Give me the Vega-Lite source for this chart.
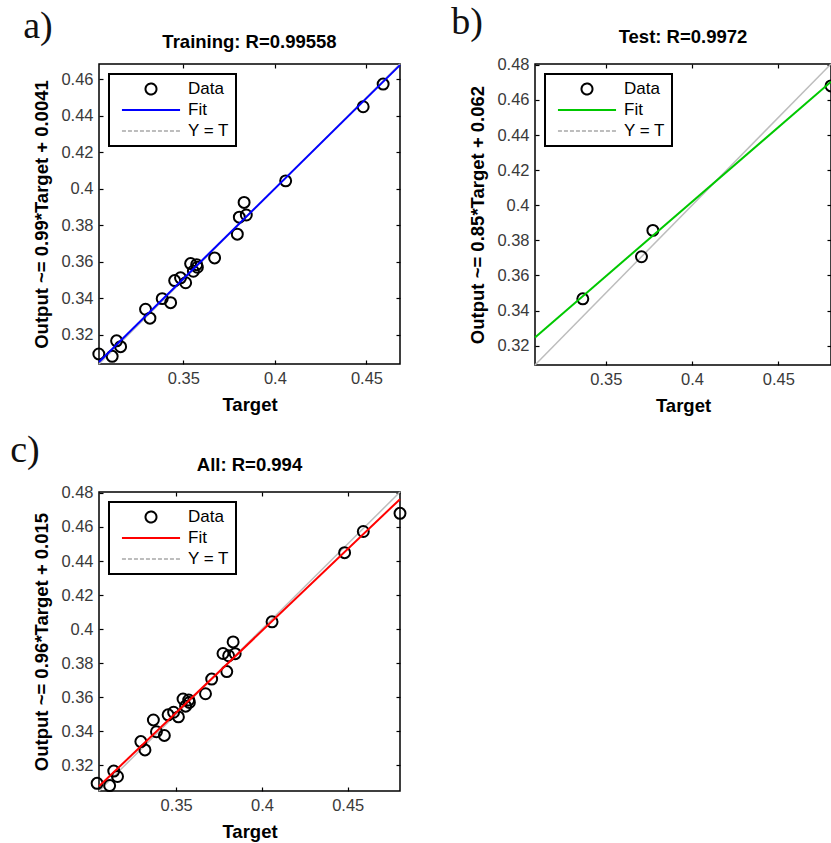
{
  "$schema": "https://vega.github.io/schema/vega-lite/v6.json",
  "background": "white",
  "padding": {"left": 10, "top": 3, "right": 0, "bottom": 0},
  "datasets": {
    "pts": [
      {"set": "Training", "t": 0.3039, "o": 0.3095},
      {"set": "Training", "t": 0.3112, "o": 0.3082},
      {"set": "Training", "t": 0.3136, "o": 0.3167},
      {"set": "Training", "t": 0.3158, "o": 0.3135},
      {"set": "Training", "t": 0.3294, "o": 0.334},
      {"set": "Training", "t": 0.3318, "o": 0.3291},
      {"set": "Training", "t": 0.3385, "o": 0.3398},
      {"set": "Training", "t": 0.3431, "o": 0.3376},
      {"set": "Training", "t": 0.3453, "o": 0.3497},
      {"set": "Training", "t": 0.3485, "o": 0.3512},
      {"set": "Training", "t": 0.3513, "o": 0.3485},
      {"set": "Training", "t": 0.354, "o": 0.359},
      {"set": "Training", "t": 0.3555, "o": 0.3548},
      {"set": "Training", "t": 0.3577, "o": 0.357},
      {"set": "Training", "t": 0.3573, "o": 0.3584},
      {"set": "Training", "t": 0.3671, "o": 0.3621},
      {"set": "Training", "t": 0.3795, "o": 0.3751},
      {"set": "Training", "t": 0.3806, "o": 0.3844},
      {"set": "Training", "t": 0.3832, "o": 0.3925},
      {"set": "Training", "t": 0.3844, "o": 0.3856},
      {"set": "Training", "t": 0.4059, "o": 0.4043},
      {"set": "Training", "t": 0.4482, "o": 0.4449},
      {"set": "Training", "t": 0.4591, "o": 0.4573},
      {"set": "Test", "t": 0.3367, "o": 0.3467},
      {"set": "Test", "t": 0.3707, "o": 0.3707},
      {"set": "Test", "t": 0.3773, "o": 0.3857},
      {"set": "Test", "t": 0.4805, "o": 0.468}
    ],
    "lines": [
      {"panel": "A", "series": "Fit", "t": 0.304, "o": 0.3051},
      {"panel": "A", "series": "Fit", "t": 0.4683, "o": 0.4677},
      {"panel": "A", "series": "Y = T", "t": 0.304, "o": 0.304},
      {"panel": "A", "series": "Y = T", "t": 0.4683, "o": 0.4683},
      {"panel": "B", "series": "Fit", "t": 0.309, "o": 0.3247},
      {"panel": "B", "series": "Fit", "t": 0.4805, "o": 0.4704},
      {"panel": "B", "series": "Y = T", "t": 0.309, "o": 0.309},
      {"panel": "B", "series": "Y = T", "t": 0.4805, "o": 0.4805},
      {"panel": "C", "series": "Fit", "t": 0.305, "o": 0.3078},
      {"panel": "C", "series": "Fit", "t": 0.4805, "o": 0.4763},
      {"panel": "C", "series": "Y = T", "t": 0.305, "o": 0.305},
      {"panel": "C", "series": "Y = T", "t": 0.4805, "o": 0.4805}
    ]
  },
  "vconcat": [
    {
      "hconcat": [
        {
          "title": {"text": "a)", "anchor": "start", "font": "Liberation Serif", "fontSize": 38, "fontWeight": "normal", "color": "#111", "dx": -9, "dy": 24},
          "vconcat": [
            {
              "width": 301, "height": 300,
              "title": "Training: R=0.99558",
              "layer": [
                {
                  "data": {"name": "lines"},
                  "transform": [{"filter": "datum.panel === 'A' && datum.series === 'Y = T'"}],
                  "mark": {"type": "line", "strokeWidth": 1.5, "clip": false},
                  "encoding": {
                    "x": {"field": "t", "type": "quantitative", "scale": {"domain": [0.304, 0.4683], "nice": false, "zero": false}, "axis": {"orient": "top", "labels": false, "title": null, "values": [0.35, 0.4, 0.45]}},
                    "y": {"field": "o", "type": "quantitative", "scale": {"domain": [0.304, 0.4683], "nice": false, "zero": false}, "axis": {"orient": "right", "labels": false, "title": null, "values": [0.32, 0.34, 0.36, 0.38, 0.4, 0.42, 0.44, 0.46]}},
                    "color": {
                      "datum": "Y = T",
                      "scale": {"domain": ["Data", "Fit", "Y = T"], "range": ["black", "#0000ff", "#bdbdbd"]},
                      "legend": {
                        "orient": "top-left", "offset": 10, "title": null, "clipHeight": 18,
                        "encode": {
                          "legend": {"update": {"strokeWidth": {"value": 2}}},
                          "symbols": {"update": {
                            "shape": {"signal": "datum.value === 'Data' ? 'M-0.157,0A0.157,0.157,0,1,0,0.157,0A0.157,0.157,0,1,0,-0.157,0Z' : 'M-0.83,0H0.83'"},
                            "size": {"value": 4900},
                            "fill": {"value": "transparent"},
                            "strokeDash": {"signal": "datum.value === 'Y = T' ? [4, 2] : [1, 0]"},
                            "strokeWidth": {"value": 2}
                          }}
                        }
                      }
                    }
                  }
                },
                {
                  "data": {"name": "pts"},
                  "transform": [{"filter": "datum.set === 'Training'"}],
                  "mark": {"type": "point", "shape": "circle", "filled": false, "size": 120, "strokeWidth": 2, "opacity": 1},
                  "encoding": {
                    "x": {"field": "t", "type": "quantitative", "axis": {"orient": "bottom", "title": "Target", "values": [0.35, 0.4, 0.45], "format": "~g"}},
                    "y": {"field": "o", "type": "quantitative", "axis": {"orient": "left", "title": "Output ~= 0.99*Target + 0.0041", "values": [0.32, 0.34, 0.36, 0.38, 0.4, 0.42, 0.44, 0.46], "format": "~g"}},
                    "color": {"datum": "Data"}
                  }
                },
                {
                  "data": {"name": "lines"},
                  "transform": [{"filter": "datum.panel === 'A' && datum.series === 'Fit'"}],
                  "mark": {"type": "line", "strokeWidth": 2, "clip": false},
                  "encoding": {
                    "x": {"field": "t", "type": "quantitative", "axis": null},
                    "y": {"field": "o", "type": "quantitative", "axis": null},
                    "color": {"datum": "Fit"}
                  }
                }
              ],
              "resolve": {"axis": {"x": "independent", "y": "independent"}}
            }
          ]
        },
        {
          "title": {"text": "b)", "anchor": "start", "font": "Liberation Serif", "fontSize": 38, "fontWeight": "normal", "color": "#111", "dx": -17, "dy": 24},
          "vconcat": [
            {
              "width": 296, "height": 301,
              "title": "Test: R=0.9972",
              "layer": [
                {
                  "data": {"name": "lines"},
                  "transform": [{"filter": "datum.panel === 'B' && datum.series === 'Y = T'"}],
                  "mark": {"type": "line", "strokeWidth": 1.5, "clip": false},
                  "encoding": {
                    "x": {"field": "t", "type": "quantitative", "scale": {"domain": [0.309, 0.4805], "nice": false, "zero": false}, "axis": {"orient": "top", "labels": false, "title": null, "values": [0.35, 0.4, 0.45]}},
                    "y": {"field": "o", "type": "quantitative", "scale": {"domain": [0.309, 0.4805], "nice": false, "zero": false}, "axis": {"orient": "right", "labels": false, "title": null, "values": [0.32, 0.34, 0.36, 0.38, 0.4, 0.42, 0.44, 0.46, 0.48]}},
                    "color": {
                      "datum": "Y = T",
                      "scale": {"domain": ["Data", "Fit", "Y = T"], "range": ["black", "#00c800", "#bdbdbd"]},
                      "legend": {
                        "orient": "top-left", "offset": 10, "title": null, "clipHeight": 18,
                        "encode": {
                          "legend": {"update": {"strokeWidth": {"value": 2}}},
                          "symbols": {"update": {
                            "shape": {"signal": "datum.value === 'Data' ? 'M-0.157,0A0.157,0.157,0,1,0,0.157,0A0.157,0.157,0,1,0,-0.157,0Z' : 'M-0.83,0H0.83'"},
                            "size": {"value": 4900},
                            "fill": {"value": "transparent"},
                            "strokeDash": {"signal": "datum.value === 'Y = T' ? [4, 2] : [1, 0]"},
                            "strokeWidth": {"value": 2}
                          }}
                        }
                      }
                    }
                  }
                },
                {
                  "data": {"name": "pts"},
                  "transform": [{"filter": "datum.set === 'Test'"}],
                  "mark": {"type": "point", "shape": "circle", "filled": false, "size": 120, "strokeWidth": 2, "opacity": 1},
                  "encoding": {
                    "x": {"field": "t", "type": "quantitative", "axis": {"orient": "bottom", "title": "Target", "values": [0.35, 0.4, 0.45], "format": "~g"}},
                    "y": {"field": "o", "type": "quantitative", "axis": {"orient": "left", "title": "Output ~= 0.85*Target + 0.062", "values": [0.32, 0.34, 0.36, 0.38, 0.4, 0.42, 0.44, 0.46, 0.48], "format": "~g"}},
                    "color": {"datum": "Data"}
                  }
                },
                {
                  "data": {"name": "lines"},
                  "transform": [{"filter": "datum.panel === 'B' && datum.series === 'Fit'"}],
                  "mark": {"type": "line", "strokeWidth": 2, "clip": false},
                  "encoding": {
                    "x": {"field": "t", "type": "quantitative", "axis": null},
                    "y": {"field": "o", "type": "quantitative", "axis": null},
                    "color": {"datum": "Fit"}
                  }
                }
              ],
              "resolve": {"axis": {"x": "independent", "y": "independent"}}
            }
          ]
        }
      ],
      "spacing": 46,
      "resolve": {"scale": {"x": "independent", "y": "independent", "color": "independent"}, "legend": {"color": "independent"}}
    },
    {
      "title": {"text": "c)", "anchor": "start", "font": "Liberation Serif", "fontSize": 38, "fontWeight": "normal", "color": "#111", "dx": -22, "dy": 24},
      "vconcat": [
        {
          "width": 301, "height": 299,
          "title": "All: R=0.994",
          "layer": [
            {
              "data": {"name": "lines"},
              "transform": [{"filter": "datum.panel === 'C' && datum.series === 'Y = T'"}],
              "mark": {"type": "line", "strokeWidth": 1.5, "clip": false},
              "encoding": {
                "x": {"field": "t", "type": "quantitative", "scale": {"domain": [0.305, 0.4805], "nice": false, "zero": false}, "axis": {"orient": "top", "labels": false, "title": null, "values": [0.35, 0.4, 0.45]}},
                "y": {"field": "o", "type": "quantitative", "scale": {"domain": [0.305, 0.4805], "nice": false, "zero": false}, "axis": {"orient": "right", "labels": false, "title": null, "values": [0.32, 0.34, 0.36, 0.38, 0.4, 0.42, 0.44, 0.46, 0.48]}},
                "color": {
                  "datum": "Y = T",
                  "scale": {"domain": ["Data", "Fit", "Y = T"], "range": ["black", "#ff0000", "#bdbdbd"]},
                  "legend": {
                    "orient": "top-left", "offset": 10, "title": null, "clipHeight": 18,
                    "encode": {
                      "legend": {"update": {"strokeWidth": {"value": 2}}},
                      "symbols": {"update": {
                        "shape": {"signal": "datum.value === 'Data' ? 'M-0.157,0A0.157,0.157,0,1,0,0.157,0A0.157,0.157,0,1,0,-0.157,0Z' : 'M-0.83,0H0.83'"},
                        "size": {"value": 4900},
                        "fill": {"value": "transparent"},
                        "strokeDash": {"signal": "datum.value === 'Y = T' ? [4, 2] : [1, 0]"},
                        "strokeWidth": {"value": 2}
                      }}
                    }
                  }
                }
              }
            },
            {
              "data": {"name": "pts"},
              "mark": {"type": "point", "shape": "circle", "filled": false, "size": 120, "strokeWidth": 2, "opacity": 1},
              "encoding": {
                "x": {"field": "t", "type": "quantitative", "axis": {"orient": "bottom", "title": "Target", "values": [0.35, 0.4, 0.45], "format": "~g"}},
                "y": {"field": "o", "type": "quantitative", "axis": {"orient": "left", "title": "Output ~= 0.96*Target + 0.015", "values": [0.32, 0.34, 0.36, 0.38, 0.4, 0.42, 0.44, 0.46, 0.48], "format": "~g"}},
                "color": {"datum": "Data"}
              }
            },
            {
              "data": {"name": "lines"},
              "transform": [{"filter": "datum.panel === 'C' && datum.series === 'Fit'"}],
              "mark": {"type": "line", "strokeWidth": 2, "clip": false},
              "encoding": {
                "x": {"field": "t", "type": "quantitative", "axis": null},
                "y": {"field": "o", "type": "quantitative", "axis": null},
                "color": {"datum": "Fit"}
              }
            }
          ],
          "resolve": {"axis": {"x": "independent", "y": "independent"}}
        }
      ]
    }
  ],
  "spacing": 15,
  "resolve": {"scale": {"x": "independent", "y": "independent", "color": "independent"}, "legend": {"color": "independent"}},
  "config": {
    "font": "Liberation Sans",
    "view": {"stroke": "black", "strokeWidth": 1.5},
    "axis": {
      "grid": false, "domain": false, "tickColor": "black", "tickSize": -4, "tickWidth": 1.2,
      "labelFont": "Liberation Sans", "labelFontSize": 16.5, "labelColor": "#3a3a3a", "labelPadding": 10,
      "titleFont": "Liberation Sans", "titleFontSize": 18.5, "titleFontWeight": "bold", "titleColor": "black", "titlePadding": 9
    },
    "title": {"font": "Liberation Sans", "fontSize": 18.5, "fontWeight": "bold", "color": "black", "offset": 10},
    "legend": {
      "strokeColor": "black", "fillColor": "white", "padding": 6,
      "labelFont": "Liberation Sans", "labelFontSize": 17, "labelColor": "black", "labelOffset": 1,
      "symbolType": "stroke", "symbolStrokeWidth": 2, "rowPadding": 3
    }
  }
}
